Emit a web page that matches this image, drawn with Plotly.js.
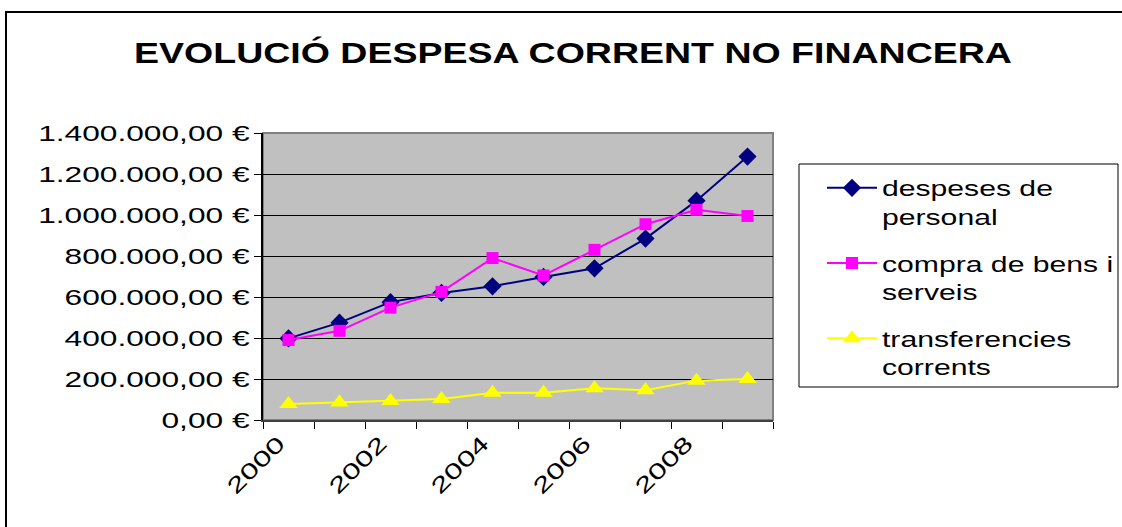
<!DOCTYPE html>
<html>
<head>
<meta charset="utf-8">
<script src="https://cdn.plot.ly/plotly-3.0.1.min.js"></script>
<style>
html,body{margin:0;padding:0;background:#fff;}
#chart{width:1122px;height:527px;}
</style>
</head>
<body>
<div id="chart"></div>
<script>
const years = ['2000','2001','2002','2003','2004','2005','2006','2007','2008','2009'];
const yearLabels = ['2000','','2002','','2004','','2006','','2008',''];
const despesesPersonal = [398000, 475000, 575000, 620000, 652000, 698000, 740000, 885000, 1070000, 1285000];
const compraBens = [390000, 435000, 548000, 625000, 790000, 705000, 830000, 955000, 1025000, 995000];
const transferencies = [78000, 85000, 93000, 102000, 133000, 133000, 155000, 145000, 192000, 200000];
const seriesNames = ['despeses de<br>personal', 'compra de bens i<br>serveis', 'transferencies<br>corrents'];
const title = 'EVOLUCIÓ DESPESA CORRENT NO FINANCERA';

const W = 1122, H = 527;
const L = 263, R = 773, T = 133, B = 420;
const px2x = p => (p - L) / (R - L);
const py2y = p => (B - p) / (B - T);

const FONT = 'Liberation Sans, Arial, sans-serif';

const traces = [
  {x: years, y: despesesPersonal, name: seriesNames[0], legendgroup: 'a', type: 'scatter', mode: 'lines+markers',
   line: {color: '#000080', width: 2}, marker: {symbol: 'diamond', size: 14, color: '#000080'}},
  {x: years, y: compraBens, name: seriesNames[1], legendgroup: 'b', type: 'scatter', mode: 'lines+markers',
   line: {color: '#FF00FF', width: 2}, marker: {symbol: 'square', size: 12, color: '#FF00FF'}},
  {x: years, y: transferencies, name: seriesNames[2], legendgroup: 'c', type: 'scatter', mode: 'lines+markers',
   line: {color: '#FFFF00', width: 2}, marker: {symbol: 'triangle-up', size: 16, color: '#FFFF00'}}
];

const layout = {
  width: W, height: H,
  margin: {l: L, r: W - R, t: T, b: H - B, pad: 0},
  paper_bgcolor: '#FFFFFF',
  plot_bgcolor: '#C0C0C0',
  separators: ',.',
  font: {family: FONT, color: '#000000', size: 22},
  title: {text: title, font: {family: FONT, size: 30, weight: 'bold', color: '#000'},
          x: 573 / W, xref: 'container', xanchor: 'center', y: 1 - 52 / H, yref: 'container', yanchor: 'middle'},
  showlegend: true,
  legend: {x: px2x(822), y: py2y(167), xanchor: 'left', yanchor: 'top', xref: 'paper', yref: 'paper',
           bgcolor: 'rgba(0,0,0,0)', borderwidth: 0, valign: 'top', itemwidth: 50,
           font: {family: FONT, size: 22, color: '#000'}, tracegroupgap: 15, traceorder: 'grouped'},
  xaxis: {type: 'category', range: [-0.5, 9.5], tickson: 'boundaries', tickmode: 'array', tickvals: years, ticktext: yearLabels,
          tickangle: -45, ticks: 'outside', ticklen: 7, tickwidth: 1, tickcolor: '#000', ticklabelshift: -10,
          showline: true, linecolor: '#404040', linewidth: 2, showgrid: false, zeroline: false,
          tickfont: {family: FONT, size: 22, color: '#000'}, fixedrange: true},
  yaxis: {range: [0, 1400000], dtick: 200000, tick0: 0, tickformat: ',.2f', ticksuffix: ' €',
          ticks: 'outside', ticklen: 7, tickwidth: 1, tickcolor: '#000',
          showline: true, linecolor: '#000', linewidth: 2, showgrid: true, gridcolor: '#000', gridwidth: 1,
          zeroline: false, tickfont: {family: FONT, size: 22, color: '#000'}, fixedrange: true},
  shapes: [
    {type: 'rect', xref: 'paper', yref: 'paper', x0: 0, x1: 1, y0: 0, y1: 1,
     line: {color: '#808080', width: 2}, fillcolor: 'rgba(0,0,0,0)', layer: 'below'},
    {type: 'rect', xref: 'paper', yref: 'paper', x0: px2x(799), x1: px2x(1118), y0: py2y(387), y1: py2y(164),
     line: {color: '#000', width: 1}, fillcolor: 'rgba(0,0,0,0)'},
    {type: 'rect', xref: 'paper', yref: 'paper', x0: px2x(6), x1: px2x(1130), y0: py2y(540), y1: py2y(12),
     line: {color: '#000', width: 2}, fillcolor: 'rgba(0,0,0,0)'}
  ]
};

function stretch(selector, factor) {
  document.querySelectorAll(selector).forEach(t => {
    const lines = t.querySelectorAll('tspan.line');
    const targets = lines.length ? Array.from(lines) : [t];
    targets.forEach(el => {
      const w = el.getComputedTextLength();
      if (w > 0) {
        el.setAttribute('textLength', (w * factor).toFixed(1));
        el.setAttribute('lengthAdjust', 'spacingAndGlyphs');
      }
    });
  });
}

Plotly.newPlot('chart', traces, layout, {displayModeBar: false, staticPlot: true}).then(() => {
  stretch('#chart .ytick text', 1.44);
  stretch('#chart .xtick text', 1.45);
  stretch('#chart text.legendtext', 1.37);
  stretch('#chart text.gtitle', 1.25);
  document.querySelectorAll('#chart .legend [clip-path]').forEach(e => e.removeAttribute('clip-path'));
});
</script>
</body>
</html>
